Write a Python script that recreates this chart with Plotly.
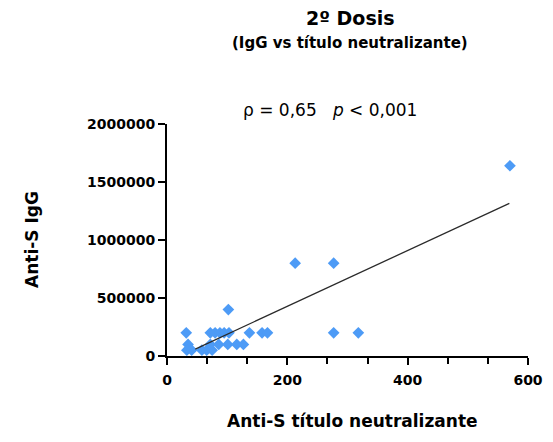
import plotly.graph_objects as go

# Data
titulo = [32, 35, 33, 41, 58, 66, 75,
          72, 86, 101, 116, 127,
          72, 80, 88, 95, 103, 137, 158, 167, 277, 318,
          102, 213, 277, 570]
igg = [200000, 100000, 50000, 50000, 50000, 50000, 50000,
       100000, 100000, 100000, 100000, 100000,
       200000, 200000, 200000, 200000, 200000, 200000, 200000, 200000, 200000, 200000,
       400000, 800000, 800000, 1640000]

fit_x = [47, 569]
fit_y = [60000, 1316000]

x_ticks = [0, 200, 400, 600]
y_ticks = [0, 500000, 1000000, 1500000, 2000000]

FONT = "DejaVu Sans, sans-serif"
OFF = 8  # page body margin offset compensation

fig = go.Figure()
fig.add_trace(go.Scatter(
    x=titulo, y=igg, mode="markers",
    marker=dict(symbol="diamond", size=9, color="#4D9BF6", line=dict(width=0)),
    cliponaxis=False, showlegend=False))
fig.add_trace(go.Scatter(
    x=fit_x, y=fit_y, mode="lines",
    line=dict(color="#2a2a2a", width=1.3),
    cliponaxis=False, showlegend=False))

W, H = 553, 442
L, T = 167 - OFF, 124 - OFF
R = W - (528 - OFF)
B = H - (356 - OFF)
fig.update_layout(
    width=W, height=H,
    margin=dict(l=L, r=R, t=T, b=B, autoexpand=False),
    plot_bgcolor="white", paper_bgcolor="white",
    font=dict(family=FONT, color="black"),
    xaxis=dict(range=[0, 600], tickvals=x_ticks, ticktext=[str(v) for v in x_ticks],
               automargin=False,
               showgrid=False, zeroline=False, showline=True, linecolor="black", linewidth=2,
               ticks="outside", ticklen=7, tickwidth=2, tickcolor="black",
               ticklabelstandoff=3,
               minor=dict(dtick=200/3, tick0=0, ticks="outside", ticklen=6, tickwidth=2, tickcolor="black"),
               tickfont=dict(size=14, family=FONT, color="black", weight="bold")),
    yaxis=dict(range=[0, 2000000], tickvals=y_ticks, ticktext=[str(v) for v in y_ticks],
               automargin=False,
               showgrid=False, zeroline=False, showline=True, linecolor="black", linewidth=2,
               ticks="outside", ticklen=7, tickwidth=2, tickcolor="black",
               tickfont=dict(size=14, family=FONT, color="black", weight="bold")),
)

def pap_y(py):
    # target screen pixel y (from top) -> paper y
    return (H - B - (py - OFF)) / (H - T - B)
def pap_x(px):
    return ((px - OFF) - L) / (W - L - R)

fig.add_annotation(text="<b>2º Dosis</b>", xref="paper", yref="paper", x=pap_x(350), y=pap_y(18),
                   xanchor="center", yanchor="middle", showarrow=False,
                   font=dict(size=19, family=FONT))
fig.add_annotation(text="<b>(IgG vs título neutralizante)</b>", xref="paper", yref="paper",
                   x=pap_x(350), y=pap_y(43),
                   xanchor="center", yanchor="middle", showarrow=False,
                   font=dict(size=15, family=FONT))
fig.add_annotation(text="ρ = 0,65   <i>p</i> < 0,001", xref="paper", yref="paper",
                   x=pap_x(330), y=pap_y(110),
                   xanchor="center", yanchor="middle", showarrow=False,
                   font=dict(size=17, family=FONT))
fig.add_annotation(text="<b>Anti-S título neutralizante</b>", xref="paper", yref="paper",
                   x=pap_x(352), y=pap_y(421),
                   xanchor="center", yanchor="middle", showarrow=False,
                   font=dict(size=17, family=FONT))
fig.add_annotation(text="<b>Anti-S IgG</b>", xref="paper", yref="paper",
                   x=pap_x(32), y=pap_y(240), textangle=-90,
                   xanchor="center", yanchor="middle", showarrow=False,
                   font=dict(size=17, family=FONT))

fig.write_html("out.html")
